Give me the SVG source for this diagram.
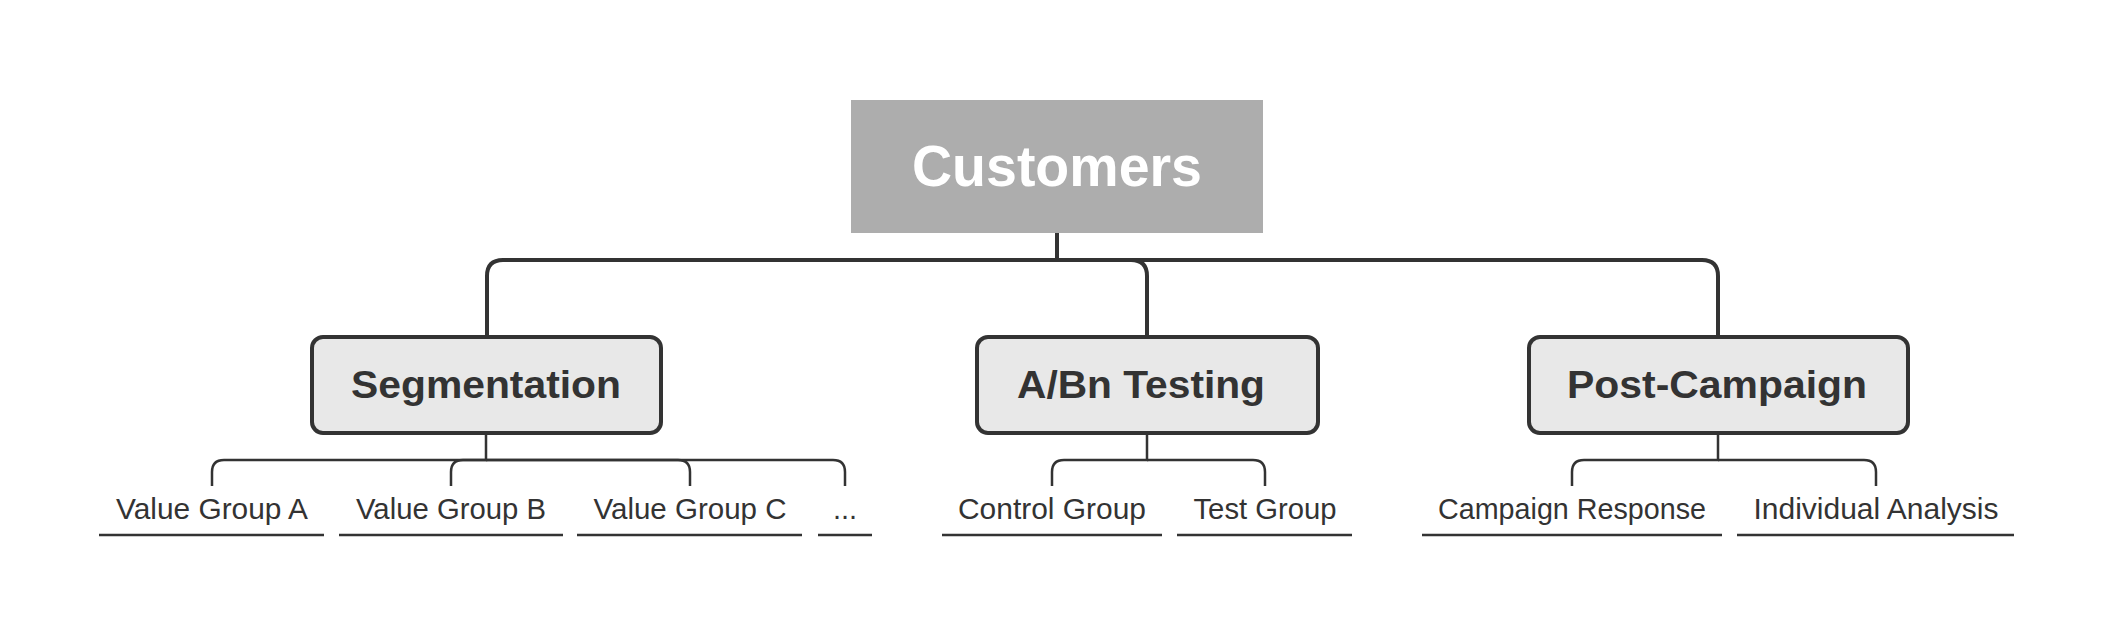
<svg xmlns="http://www.w3.org/2000/svg" width="2114" height="636" viewBox="0 0 2114 636">
<style>
.main{fill:none;stroke:#333333;stroke-width:4;stroke-linecap:butt}
.sub{fill:none;stroke:#333333;stroke-width:2.5}
.ul{stroke:#333333;stroke-width:2.5}
.box{fill:#e8e8e8;stroke:#333333;stroke-width:4}
.t1{font-family:"Liberation Sans",Arial,sans-serif;font-weight:bold;font-size:39px;fill:#333333;text-anchor:middle}
.t0{font-family:"Liberation Sans",Arial,sans-serif;font-weight:bold;font-size:58px;fill:#ffffff;text-anchor:middle}
.t2{font-family:"Liberation Sans",Arial,sans-serif;font-size:29px;fill:#333333;text-anchor:middle}
</style>
<rect width="2114" height="636" fill="#ffffff"/>
<g id="connectors">
<path class="main" d="M1057 233 V260"/>
<path class="main" d="M487 337 V276 Q487 260 503 260 H1702 Q1718 260 1718 276 V337"/>
<path class="main" d="M1131 260 Q1147 260 1147 276 V337"/>
<path class="sub" d="M486 435 V460 H224 Q212 460 212 472 V486"/>
<path class="sub" d="M486 460 H463 Q451 460 451 472 V486"/>
<path class="sub" d="M486 460 H678 Q690 460 690 472 V486"/>
<path class="sub" d="M486 460 H833 Q845 460 845 472 V486"/>
<path class="sub" d="M1147 435 V460 H1064 Q1052 460 1052 472 V486"/>
<path class="sub" d="M1147 460 H1253 Q1265 460 1265 472 V486"/>
<path class="sub" d="M1718 435 V460 H1584 Q1572 460 1572 472 V486"/>
<path class="sub" d="M1718 460 H1864 Q1876 460 1876 472 V486"/>
</g>
<g id="customers">
<rect x="851" y="100" width="412" height="133" fill="#adadad"/>
<text class="t0" x="1057" y="186" textLength="290" lengthAdjust="spacingAndGlyphs">Customers</text>
</g>
<g id="segmentation">
<rect class="box" x="312" y="337" width="349" height="96" rx="11"/>
<text class="t1" x="486" y="398" textLength="270" lengthAdjust="spacingAndGlyphs">Segmentation</text>
</g>
<g id="abn-testing">
<rect class="box" x="977" y="337" width="341" height="96" rx="11"/>
<text class="t1" x="1141" y="398" textLength="248" lengthAdjust="spacingAndGlyphs">A/Bn Testing</text>
</g>
<g id="post-campaign">
<rect class="box" x="1529" y="337" width="379" height="96" rx="11"/>
<text class="t1" x="1717" y="398" textLength="300" lengthAdjust="spacingAndGlyphs">Post-Campaign</text>
</g>
<g id="value-group-a">
<text class="t2" x="212" y="519" textLength="192" lengthAdjust="spacingAndGlyphs">Value Group A</text>
<line class="ul" x1="99" y1="535" x2="324" y2="535"/>
</g>
<g id="value-group-b">
<text class="t2" x="451" y="519" textLength="190" lengthAdjust="spacingAndGlyphs">Value Group B</text>
<line class="ul" x1="339" y1="535" x2="563" y2="535"/>
</g>
<g id="value-group-c">
<text class="t2" x="690" y="519" textLength="193" lengthAdjust="spacingAndGlyphs">Value Group C</text>
<line class="ul" x1="577" y1="535" x2="802" y2="535"/>
</g>
<g id="more">
<text class="t2" x="845" y="519">...</text>
<line class="ul" x1="818" y1="535" x2="872" y2="535"/>
</g>
<g id="control-group">
<text class="t2" x="1052" y="519" textLength="188" lengthAdjust="spacingAndGlyphs">Control Group</text>
<line class="ul" x1="942" y1="535" x2="1162" y2="535"/>
</g>
<g id="test-group">
<text class="t2" x="1265" y="519" textLength="143" lengthAdjust="spacingAndGlyphs">Test Group</text>
<line class="ul" x1="1177" y1="535" x2="1352" y2="535"/>
</g>
<g id="campaign-response">
<text class="t2" x="1572" y="519" textLength="268" lengthAdjust="spacingAndGlyphs">Campaign Response</text>
<line class="ul" x1="1422" y1="535" x2="1722" y2="535"/>
</g>
<g id="individual-analysis">
<text class="t2" x="1876" y="519" textLength="245" lengthAdjust="spacingAndGlyphs">Individual Analysis</text>
<line class="ul" x1="1737" y1="535" x2="2014" y2="535"/>
</g>
</svg>
